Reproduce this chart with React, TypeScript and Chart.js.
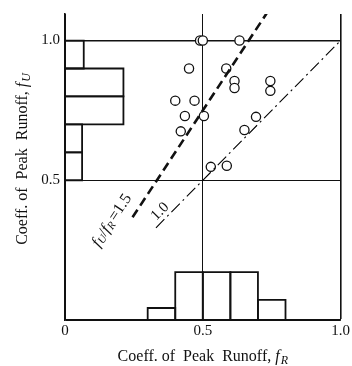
import React, { useEffect, useRef } from "react";
import { Chart, registerables } from "chart.js";

Chart.register(...registerables);

// Observed pairs (f_R, f_U)
const fR = [0.49, 0.5, 0.633, 0.45, 0.585, 0.615, 0.615, 0.745, 0.745, 0.4, 0.47, 0.435, 0.504, 0.42, 0.693, 0.651, 0.529, 0.587];
const fU = [1.0, 1.0, 1.0, 0.9, 0.9, 0.855, 0.83, 0.855, 0.82, 0.785, 0.785, 0.73, 0.73, 0.675, 0.727, 0.68, 0.548, 0.552];

// Frequency of f_R (bars along the bottom axis)
const fRBinEdges = [0.3, 0.4, 0.5, 0.6, 0.7, 0.8];
const fRBinHeights = [0.043, 0.171, 0.171, 0.171, 0.072];

// Frequency of f_U (bars along the left axis)
const fUBinEdges = [1.0, 0.9, 0.8, 0.7, 0.6, 0.5];
const fUBinLengths = [0.068, 0.212, 0.212, 0.062, 0.062];

// Reference ratio lines f_U / f_R
const ratioHigh = 1.5;
const ratioHighRange = [0.245, 0.733];
const ratioOne = 1.0;
const ratioOneRange = [0.33, 1.0];

const xTickValues = [0, 0.5, 1.0];
const xTickLabels = ["0", "0.5", "1.0"];
const yTickValues = [0, 0.5, 1.0];
const yTickLabels = ["", "0.5", "1.0"];

const SERIF = "'Liberation Serif', 'DejaVu Serif', serif";

function rect(x0: number, x1: number, y0: number, y1: number) {
  return [
    { x: x0, y: y0 },
    { x: x0, y: y1 },
    { x: x1, y: y1 },
    { x: x1, y: y0 },
    { x: x0, y: y0 },
  ];
}

type Piece = { text: string; font: string; dy: number; gap?: number };

// Draws a run of text pieces centred horizontally at (0,0)
function drawRun(ctx: CanvasRenderingContext2D, pieces: Piece[]) {
  let total = 0;
  const widths = pieces.map((p) => {
    ctx.font = p.font;
    const w = ctx.measureText(p.text).width + (p.gap ?? 0);
    total += w;
    return w;
  });
  let x = -total / 2;
  ctx.textBaseline = "middle";
  ctx.textAlign = "left";
  ctx.fillStyle = "#111";
  pieces.forEach((p, i) => {
    ctx.font = p.font;
    ctx.fillText(p.text, x, p.dy);
    x += widths[i];
  });
}

function axisTitle(sub: string): Piece[] {
  return [
    { text: "Coeff. of  Peak  Runoff, ", font: `16px ${SERIF}`, dy: 0 },
    { text: "f", font: `italic 16px ${SERIF}`, dy: 0, gap: 1 },
    { text: sub, font: `italic 12px ${SERIF}`, dy: 4 },
  ];
}

const annotations = {
  id: "annotations",
  afterDraw(chart: any) {
    const { ctx, chartArea, scales } = chart;
    const xs = scales.x;
    const ys = scales.y;
    ctx.save();
    // bottom title
    ctx.save();
    ctx.translate((chartArea.left + chartArea.right) / 2, 357);
    drawRun(ctx, axisTitle("R"));
    ctx.restore();
    // left title
    ctx.save();
    ctx.translate(23, 159);
    ctx.rotate(-Math.PI / 2);
    drawRun(ctx, axisTitle("U"));
    ctx.restore();

    // label along the 1.5 line
    const aHigh = Math.atan2(
      ys.getPixelForValue(0) - ys.getPixelForValue(ratioHigh),
      xs.getPixelForValue(1) - xs.getPixelForValue(0)
    );
    ctx.save();
    ctx.translate(xs.getPixelForValue(0.17), ys.getPixelForValue(0.356));
    ctx.rotate(-aHigh);
    drawRun(ctx, [
      { text: "f", font: `italic 16px ${SERIF}`, dy: 0, gap: 0.5 },
      { text: "U", font: `italic 11px ${SERIF}`, dy: 3 },
      { text: "/", font: `15px ${SERIF}`, dy: 0 },
      { text: "f", font: `italic 16px ${SERIF}`, dy: 0, gap: 0.5 },
      { text: "R", font: `italic 11px ${SERIF}`, dy: 3, gap: 2 },
      { text: "=1.5", font: `16px ${SERIF}`, dy: 0 },
    ]);
    ctx.restore();

    // label along the 1.0 line
    const aOne = Math.atan2(
      ys.getPixelForValue(0) - ys.getPixelForValue(ratioOne),
      xs.getPixelForValue(1) - xs.getPixelForValue(0)
    );
    ctx.save();
    ctx.translate(xs.getPixelForValue(0.345), ys.getPixelForValue(0.388));
    ctx.rotate(-aOne);
    drawRun(ctx, [{ text: "1.0", font: `15px ${SERIF}`, dy: 0 }]);
    ctx.restore();
    ctx.restore();
  },
};

export default function App() {
  const ref = useRef<HTMLCanvasElement>(null);

  useEffect(() => {
    if (!ref.current) return;

    const histDatasets: any[] = [];
    fRBinHeights.forEach((h, i) => {
      histDatasets.push({
        data: rect(fRBinEdges[i], fRBinEdges[i + 1], 0, h),
        showLine: true,
        borderColor: "#111",
        borderWidth: 1.8,
        pointRadius: 0,
        fill: false,
      });
    });
    fUBinLengths.forEach((w, i) => {
      const y0 = fUBinEdges[i];
      const y1 = fUBinEdges[i + 1];
      histDatasets.push({
        data: [
          { x: 0, y: y0 },
          { x: w, y: y0 },
          { x: w, y: y1 },
          { x: 0, y: y1 },
        ],
        showLine: true,
        borderColor: "#111",
        borderWidth: 1.8,
        pointRadius: 0,
        fill: false,
      });
    });

    const chart = new Chart(ref.current, {
      type: "scatter",
      data: {
        datasets: [
          ...histDatasets,
          {
            data: ratioHighRange.map((v) => ({ x: v, y: v * ratioHigh })),
            showLine: true,
            borderColor: "#111",
            borderWidth: 2.6,
            borderDash: [9, 5],
            pointRadius: 0,
          },
          {
            data: ratioOneRange.map((v) => ({ x: v, y: v * ratioOne })),
            showLine: true,
            borderColor: "#000",
            borderWidth: 1.1,
            borderDash: [12, 4, 2, 4],
            pointRadius: 0,
          },
          {
            data: fR.map((v, i) => ({ x: v, y: fU[i] })),
            pointRadius: 4.6,
            pointBorderWidth: 1.3,
            pointBackgroundColor: "#fff",
            pointBorderColor: "#111",
            showLine: false,
          },
        ],
      },
      options: {
        animation: false,
        responsive: false,
        layout: { padding: { top: 13, right: 9, left: 0, bottom: 0 } },
        plugins: { legend: { display: false }, tooltip: { enabled: false } },
        scales: {
          x: {
            type: "linear",
            min: 0,
            max: 1.0,
            afterFit: (s: any) => {
              s.height = 46;
            },
            afterBuildTicks: (s: any) => {
              s.ticks = xTickValues.map((v) => ({ value: v }));
            },
            ticks: {
              padding: 2,
              color: "#111",
              font: { family: SERIF, size: 15 },
              callback: (v: any) => xTickLabels[xTickValues.indexOf(Number(v))] ?? "",
              maxRotation: 0,
            },
            grid: {
              drawTicks: false,
              color: "#111",
              lineWidth: (c: any) => (c.tick && c.tick.value === 1 ? 1.6 : 1),
            },
            border: { color: "#111", width: 1.6 },
          },
          y: {
            type: "linear",
            min: 0,
            max: 1.095,
            afterFit: (s: any) => {
              s.width = 65;
            },
            afterBuildTicks: (s: any) => {
              s.ticks = yTickValues.map((v) => ({ value: v }));
            },
            ticks: {
              padding: 5,
              color: "#111",
              font: { family: SERIF, size: 15 },
              callback: (v: any) => yTickLabels[yTickValues.indexOf(Number(v))] ?? "",
            },
            grid: {
              drawTicks: false,
              color: "#111",
              lineWidth: (c: any) => (c.tick && c.tick.value === 1 ? 1.6 : 1),
            },
            border: { color: "#111", width: 1.6 },
          },
        },
      },
      plugins: [annotations],
    });

    return () => chart.destroy();
  }, []);

  return (
    <div style={{ position: "absolute", left: 0, top: 0, width: 352, height: 366, background: "#fff" }}>
      <canvas ref={ref} width={352} height={366} style={{ display: "block" }} />
    </div>
  );
}
